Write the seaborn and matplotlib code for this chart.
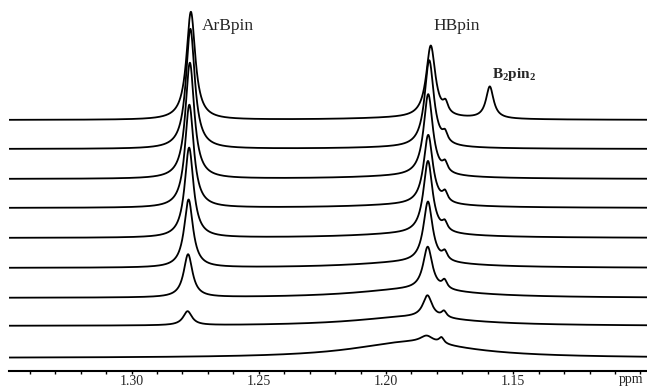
import numpy as np
import pandas as pd
import seaborn as sns
import matplotlib.pyplot as plt
from matplotlib.ticker import FixedLocator, MultipleLocator, FormatStrFormatter

# stacked 1H NMR traces, top trace first (intensities in arbitrary units)
trace_offset = [251, 222, 192, 163, 133, 103, 73, 45, 13]

arbpin_pos = [1.2767, 1.2769, 1.2771, 1.2773, 1.2774, 1.2776, 1.2778, 1.2780, 1.2780]
arbpin_height = [108, 120, 116, 103, 90, 68, 43, 14, 0]

hbpin_pos = [1.1824, 1.1830, 1.1834, 1.1834, 1.1835, 1.1835, 1.1836, 1.1837, 1.1840]
hbpin_height = [72, 87, 82, 70, 73, 61, 43, 22, 7]

shoulder_pos = [1.1766, 1.1768, 1.1768, 1.1768, 1.1769, 1.1769, 1.1770, 1.1772, 1.1782]
shoulder_height = [10, 9, 9, 9, 8, 8, 8, 6, 6]

b2pin2_pos = 1.1592
b2pin2_height = [32, 0, 0, 0, 0, 0, 0, 0, 0]

hump_pos = 1.1902
hump_height = [2, 1.5, 2.7, 3, 4, 5.5, 8.5, 9, 16]

major_ticks = [1.30, 1.25, 1.20, 1.15]

# half widths (ppm)
w_arbpin, w_hbpin, w_shoulder, w_b2pin2, w_hump = 0.0021, 0.0022, 0.0012, 0.0018, 0.0275


def lorentz(x, x0, h, g):
    return h * g ** 2 / ((x - x0) ** 2 + g ** 2)


ppm = np.linspace(1.3482, 1.0974, 3000)
frames = []
for i in range(len(trace_offset)):
    y = (trace_offset[i]
         + lorentz(ppm, arbpin_pos[i], arbpin_height[i], w_arbpin)
         + lorentz(ppm, hbpin_pos[i], hbpin_height[i], w_hbpin * (1.4 if i == 8 else 1.0))
         + lorentz(ppm, shoulder_pos[i], shoulder_height[i], w_shoulder)
         + lorentz(ppm, b2pin2_pos, b2pin2_height[i], w_b2pin2)
         + lorentz(ppm, hump_pos, hump_height[i], w_hump))
    frames.append(pd.DataFrame({'ppm': ppm, 'intensity': y, 'trace': i}))
df = pd.concat(frames, ignore_index=True)

sns.set_style('white')
plt.rcParams['font.family'] = ['Liberation Serif', 'DejaVu Serif']
plt.rcParams['mathtext.fontset'] = 'custom'
plt.rcParams['mathtext.rm'] = 'Liberation Serif'
plt.rcParams['mathtext.bf'] = 'Liberation Serif:bold'

fig = plt.figure(figsize=(6.47, 3.88), dpi=100)
ax = fig.add_axes([9 / 647, 17 / 388, 638 / 647, 371 / 388])

sns.lineplot(data=df, x='ppm', y='intensity', units='trace', estimator=None,
             color='black', linewidth=1.3, sort=False, ax=ax, legend=False)

ax.set_xlim(1.3482, 1.0974)
ax.set_ylim(0, 371)
for s in ['left', 'top', 'right']:
    ax.spines[s].set_visible(False)
ax.spines['bottom'].set_linewidth(1.5)
ax.spines['bottom'].set_color('black')

ax.xaxis.set_major_locator(FixedLocator(major_ticks))
ax.xaxis.set_minor_locator(MultipleLocator(0.01))
ax.xaxis.set_major_formatter(FormatStrFormatter('%.2f'))
ax.tick_params(axis='x', which='both', direction='out', length=2.5, width=1,
               color='black', bottom=True)
ax.tick_params(axis='x', which='major', labelsize=10, pad=0.5)
ax.set_yticks([])
ax.set_xlabel('')
ax.set_ylabel('')

ax.text(1.2724, 341, 'ArBpin', fontsize=12.5, ha='left', va='baseline')
ax.text(1.1812, 341, 'HBpin', fontsize=12.5, ha='left', va='baseline')
ax.text(1.1584, 293, r'$\mathbf{B_2pin_2}$', fontsize=11, ha='left', va='baseline')
ax.text(1.1085, -8, 'ppm', fontsize=10, ha='left', va='center')

fig.savefig('out.png', dpi=100)
